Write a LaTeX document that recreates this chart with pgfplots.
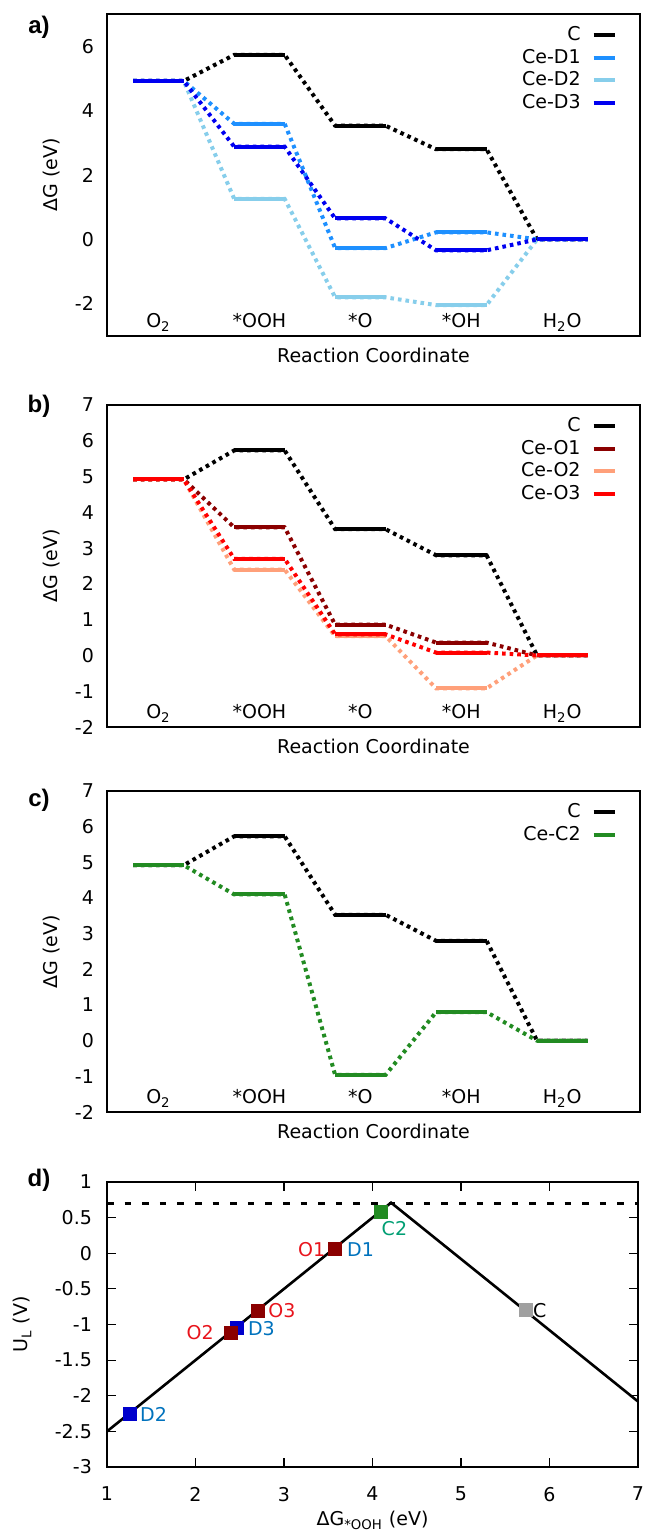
\documentclass[border=0pt]{standalone}
\usepackage{fontspec}
\setmainfont{DejaVu Sans}
\newfontfamily\panelfont{Liberation Sans}
\usepackage{pgfplots}
\usepackage{pgfplotstable}
\pgfplotsset{compat=1.18}

\definecolor{ceD1}{HTML}{1E90FF}
\definecolor{ceD2}{HTML}{87CEEB}
\definecolor{ceD3}{HTML}{0000F0}
\definecolor{ceO1}{HTML}{8B0000}
\definecolor{ceO2}{HTML}{FFA07A}
\definecolor{ceO3}{HTML}{FF0000}
\definecolor{ceC2}{HTML}{228B22}
\definecolor{sqblue}{HTML}{0000CC}
\definecolor{sqgray}{HTML}{A0A0A0}
\definecolor{txtO}{HTML}{E8141C}
\definecolor{txtD}{HTML}{0072BD}
\definecolor{txtC}{HTML}{009E73}

% free energy levels: x start/end of each step, nan rows split the levels
\pgfplotstableread{
x    C    D1    D2    D3
0.75 4.92 4.92  4.92  4.92
1.25 4.92 4.92  4.92  4.92
nan  nan  nan   nan   nan
1.75 5.73 3.59  1.26  2.88
2.25 5.73 3.59  1.26  2.88
nan  nan  nan   nan   nan
2.75 3.53 -0.27 -1.80 0.65
3.25 3.53 -0.27 -1.80 0.65
nan  nan  nan   nan   nan
3.75 2.80 0.22  -2.04 -0.34
4.25 2.80 0.22  -2.04 -0.34
nan  nan  nan   nan   nan
4.75 0    0     0     0
5.25 0    0     0     0
}\tabD

\pgfplotstableread{
x    C    O1    O2    O3
0.75 4.92 4.92  4.92  4.92
1.25 4.92 4.92  4.92  4.92
nan  nan  nan   nan   nan
1.75 5.73 3.58  2.40  2.70
2.25 5.73 3.58  2.40  2.70
nan  nan  nan   nan   nan
2.75 3.53 0.86  0.54  0.59
3.25 3.53 0.86  0.54  0.59
nan  nan  nan   nan   nan
3.75 2.80 0.36  -0.92 0.08
4.25 2.80 0.36  -0.92 0.08
nan  nan  nan   nan   nan
4.75 0    0     0     0
5.25 0    0     0     0
}\tabO

\pgfplotstableread{
x    C    C2
0.75 4.92 4.92
1.25 4.92 4.92
nan  nan  nan
1.75 5.73 4.10
2.25 5.73 4.10
nan  nan  nan
2.75 3.53 -0.96
3.25 3.53 -0.96
nan  nan  nan
3.75 2.80 0.80
4.25 2.80 0.80
nan  nan  nan
4.75 0    0
5.25 0    0
}\tabC

\pgfplotsset{
  ladder/.style={
    scale only axis, width=266.5pt, height=161pt,
    xmin=0.49, xmax=5.77,
    xtick={1,2,3,4,5},
    xticklabels={O\textsubscript{2},*OOH,*O,*OH,H\textsubscript{2}O},
    major tick length=0pt,
    xticklabel style={anchor=base, yshift=4.2pt},
    yticklabel style={xshift=-3pt},
    /pgf/number format/assume math mode=true,
    axis line style={line width=0.6pt},
    xlabel={Reaction Coordinate},
    ylabel={ΔG (eV)},
    xlabel style={at={(axis description cs:0.5,-0.059)}, anchor=center},
    ylabel style={at={(axis description cs:-0.104,0.5)}, anchor=center},
    legend plot pos=right,
    legend cell align=right,
    legend style={draw=none, fill=none, at={(rel axis cs:1,1)}, anchor=north east,
      xshift=-11.5pt, yshift=-4.8pt, inner sep=0pt, row sep=0.1pt, column sep=4.5pt,
      nodes={inner sep=1pt, text height=7.2pt, text depth=2pt}},
    legend image code/.code={\draw[#1, solid, line width=2pt] (0pt,0pt) -- (10.5pt,0pt);},
  },
  lev/.style={line width=2pt, unbounded coords=jump},
  con/.style={line width=2pt, unbounded coords=discard, dash pattern=on 1.8pt off 2pt, forget plot},
}

\begin{document}
\begin{tikzpicture}[font=\fontsize{9.5}{11.4}\selectfont]
\useasboundingbox (0,0) rectangle (324.5pt,-768.5pt);

% a) D sites
\begin{axis}[ladder, at={(53.5pt,-168pt)}, anchor=south west,
  ymin=-3, ymax=7, ytick={-2,0,2,4,6}]
\addplot[con, black] table[x=x, y=C] {\tabD};
\addplot[lev, black] table[x=x, y=C] {\tabD};
\addlegendentry{C}
\addplot[con, ceD1] table[x=x, y=D1] {\tabD};
\addplot[lev, ceD1] table[x=x, y=D1] {\tabD};
\addlegendentry{Ce-D1}
\addplot[con, ceD2] table[x=x, y=D2] {\tabD};
\addplot[lev, ceD2] table[x=x, y=D2] {\tabD};
\addlegendentry{Ce-D2}
\addplot[con, ceD3] table[x=x, y=D3] {\tabD};
\addplot[lev, ceD3] table[x=x, y=D3] {\tabD};
\addlegendentry{Ce-D3}
\end{axis}

% b) O sites
\begin{axis}[ladder, at={(53.5pt,-363.5pt)}, anchor=south west,
  ymin=-2, ymax=7, ytick={-2,...,7}]
\addplot[con, black] table[x=x, y=C] {\tabO};
\addplot[lev, black] table[x=x, y=C] {\tabO};
\addlegendentry{C}
\addplot[con, ceO1] table[x=x, y=O1] {\tabO};
\addplot[lev, ceO1] table[x=x, y=O1] {\tabO};
\addlegendentry{Ce-O1}
\addplot[con, ceO2] table[x=x, y=O2] {\tabO};
\addplot[lev, ceO2] table[x=x, y=O2] {\tabO};
\addlegendentry{Ce-O2}
\addplot[con, ceO3] table[x=x, y=O3] {\tabO};
\addplot[lev, ceO3] table[x=x, y=O3] {\tabO};
\addlegendentry{Ce-O3}
\end{axis}

% c) C2 site
\begin{axis}[ladder, at={(53.5pt,-556pt)}, anchor=south west, height=160.5pt,
  ymin=-2, ymax=7, ytick={-2,...,7}]
\addplot[con, black] table[x=x, y=C] {\tabC};
\addplot[lev, black] table[x=x, y=C] {\tabC};
\addlegendentry{C}
\addplot[con, ceC2] table[x=x, y=C2] {\tabC};
\addplot[lev, ceC2] table[x=x, y=C2] {\tabC};
\addlegendentry{Ce-C2}
\end{axis}

% d) volcano
\begin{axis}[at={(53.5pt,-733.5pt)}, anchor=south west,
  scale only axis, width=265.5pt, height=142.5pt,
  xmin=1, xmax=7, ymin=-3, ymax=1,
  xtick={1,...,7}, ytick={-3,-2.5,...,1},
  tick align=inside, tick pos=both, major tick length=4.5pt,
  every tick/.style={black, line width=0.6pt},
  axis line style={line width=0.6pt},
  /pgf/number format/assume math mode=true,
  xticklabel style={yshift=-6.5pt},
  yticklabel style={xshift=-4pt},
  xlabel={ΔG\textsubscript{*OOH} (eV)},
  ylabel={U\textsubscript{L} (V)},
  xlabel style={at={(axis description cs:0.5,-0.243)}, anchor=south},
  ylabel style={at={(axis description cs:-0.1595,0.5)}, anchor=center},
  mark size=3.25pt]
\addplot[only marks, mark=square*, sqblue, mark options={draw=sqblue}]
  coordinates {(3.58,0.06) (1.26,-2.25) (2.47,-1.05)};
\addplot[only marks, mark=square*, ceO1] coordinates {(3.57,0.06) (2.40,-1.12) (2.70,-0.81)};
\addplot[only marks, mark=square*, ceC2] coordinates {(4.10,0.58)};
\addplot[only marks, mark=square*, sqgray] coordinates {(5.73,-0.80)};
\addplot[black, line width=1.3pt, dash pattern=on 3.3pt off 5.5pt] coordinates {(1,0.70) (7,0.70)};
\addplot[black, line width=1.3pt] coordinates {(1,-2.50) (4.21,0.71) (7,-2.08)};
\node[anchor=west, inner sep=0pt, text=txtD] at (axis cs:1.37,-2.26) {D2};
\node[anchor=west, inner sep=0pt, text=txtD] at (axis cs:2.59,-1.06) {D3};
\node[anchor=east, inner sep=0pt, text=txtO] at (axis cs:2.21,-1.12) {O2};
\node[anchor=west, inner sep=0pt, text=txtO] at (axis cs:2.82,-0.81) {O3};
\node[anchor=east, inner sep=0pt, text=txtO] at (axis cs:3.47,0.05) {O1};
\node[anchor=west, inner sep=0pt, text=txtD] at (axis cs:3.71,0.05) {D1};
\node[anchor=west, inner sep=0pt, text=txtC] at (axis cs:4.10,0.34) {C2};
\node[anchor=west, inner sep=0pt, text=black] at (axis cs:5.81,-0.80) {C};
\end{axis}

\begin{scope}[font=\fontsize{12}{14}\panelfont\bfseries]
\node at (19.5pt,-13.75pt) {a)};
\node at (19.5pt,-203.3pt) {b)};
\node at (19.5pt,-400pt) {c)};
\node at (19.5pt,-590pt) {d)};
\end{scope}
\end{tikzpicture}
\end{document}
